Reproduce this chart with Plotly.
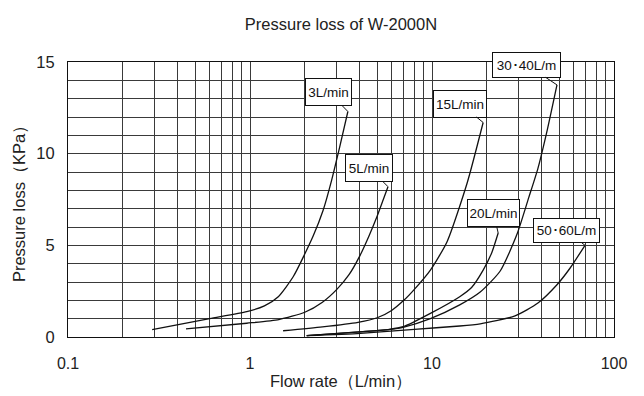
import numpy as np
import plotly.graph_objects as go

# ---- data ----
flow_3 = [0.29, 0.6, 0.96, 1.2, 1.43, 1.73, 2.22, 2.52, 2.81, 3.1, 3.45]
loss_3 = [0.4, 1.0, 1.38, 1.7, 2.2, 3.3, 5.5, 6.9, 8.56, 10.3, 12.3]

flow_5 = [0.445, 0.96, 1.44, 2.0, 2.5, 3.0, 3.5, 4.0, 4.5, 5.0, 5.4, 5.73]
loss_5 = [0.44, 0.75, 0.95, 1.35, 1.9, 2.6, 3.4, 4.4, 5.5, 6.6, 7.5, 8.2]

flow_15 = [1.52, 2.5, 3.92, 5.0, 6.0, 7.0, 8.0, 9.8, 12.1, 15.6, 19.1]
loss_15 = [0.34, 0.55, 0.8, 1.05, 1.45, 2.0, 2.6, 3.65, 5.2, 8.4, 11.7]

flow_20 = [2.05, 4.18, 5.86, 6.94, 9.8, 14.2, 16.5, 19.1, 21.3, 23.1]
loss_20 = [0.07, 0.29, 0.42, 0.56, 1.29, 2.2, 2.7, 3.65, 4.6, 5.67]

flow_30_40 = [2.05, 4.18, 5.86, 6.94, 9.8, 14.2, 18.4, 23.7, 29.3, 34.0, 38.2, 43.0, 48.6]
loss_30_40 = [0.07, 0.29, 0.42, 0.53, 1.0, 1.75, 2.45, 3.6, 5.6, 7.6, 9.2, 11.3, 13.75]

flow_50_60 = [2.05, 4.04, 8.0, 14.2, 18.4, 28.6, 38.2, 48.6, 57.3, 69.3]
loss_50_60 = [0.07, 0.2, 0.42, 0.6, 0.72, 1.15, 1.85, 2.85, 3.75, 5.0]

# label, x, y, (box offset px), (box width, height)
series = [
    ("3L/min", flow_3, loss_3, (-19.5, -20), (41, 22)),
    ("5L/min", flow_5, loss_5, (-19, -19), (42, 22)),
    ("15L/min", flow_15, loss_15, (-23, -19), (48, 22)),
    ("30･40L/m", flow_30_40, loss_30_40, (-30, -20), (63, 20)),
    ("20L/min", flow_20, loss_20, (-4.5, -20), (47, 22)),
    ("50･60L/m", flow_50_60, loss_50_60, (-18.5, -14.5), (61, 19)),
]

x_ticks = [0.1, 1, 10, 100]
x_tick_text = ["0.1", "1", "10", "100"]
y_ticks = [0, 5, 10, 15]

FONT = "Liberation Sans, Arial, Helvetica, sans-serif"
GRID = "#3a3a3a"

# the page body adds an 8 px margin, so the figure is drawn 8 px smaller
# and every margin is shifted to keep the plot where the reference has it
OFF = 8
W, H = 644 - OFF, 396 - OFF

fig = go.Figure()
annotations = []
for name, xs, ys, (ax, ay), (bw, bh) in series:
    fig.add_trace(go.Scatter(
        x=xs, y=ys, mode="lines", name=name,
        line=dict(color="#111111", width=1.3, shape="spline", smoothing=0.6),
        showlegend=False, hoverinfo="x+y",
    ))
    annotations.append(dict(
        x=np.log10(xs[-1]), y=ys[-1], xref="x", yref="y",
        text=name, showarrow=True, arrowhead=0, arrowwidth=1, arrowcolor="#111111",
        ax=ax, ay=ay, bgcolor="white", bordercolor="#111111", borderwidth=1,
        borderpad=2, width=bw, height=bh, align="center", valign="middle",
        font=dict(family=FONT, size=13.5, color="#111111"),
    ))

minor_x = [m * d for d in (0.1, 1, 10) for m in range(2, 10)]

fig.update_layout(
    width=W, height=H,
    margin=dict(l=68 - OFF, r=30, t=62 - OFF, b=59, autoexpand=False),
    paper_bgcolor="white", plot_bgcolor="white",
    font=dict(family=FONT, size=16, color="#222222"),
    title=dict(text="Pressure loss of W-2000N", x=(341 - OFF) / W, xanchor="center",
               yref="container", y=1 - (24 - OFF) / H, yanchor="middle",
               font=dict(family=FONT, size=16.5, color="#222222")),
    annotations=annotations,
)
fig.update_xaxes(
    type="log", range=[-1, 2], tickvals=x_ticks, ticktext=x_tick_text,
    showgrid=True, gridcolor=GRID, gridwidth=1,
    minor=dict(tickvals=minor_x, showgrid=True, gridcolor=GRID, gridwidth=1, ticks=""),
    showline=True, linecolor="#111111", linewidth=1, mirror=True,
    ticks="outside", ticklen=12, tickcolor="rgba(0,0,0,0)",
    zeroline=False, automargin=False,
    title=dict(text="Flow rate（L/min）", standoff=4, font=dict(size=16.5)),
    tickfont=dict(size=16),
)
fig.update_yaxes(
    range=[0, 15], tickvals=y_ticks,
    showgrid=True, gridcolor=GRID, gridwidth=1,
    minor=dict(dtick=1, showgrid=True, gridcolor=GRID, gridwidth=1, ticks=""),
    showline=True, linecolor="#111111", linewidth=1, mirror=True,
    ticks="outside", ticklen=9, tickcolor="rgba(0,0,0,0)",
    zeroline=False, automargin=False,
    title=dict(text="Pressure loss（KPa）", standoff=6, font=dict(size=16.5)),
    tickfont=dict(size=16.5),
)

fig.write_html("out.html")
